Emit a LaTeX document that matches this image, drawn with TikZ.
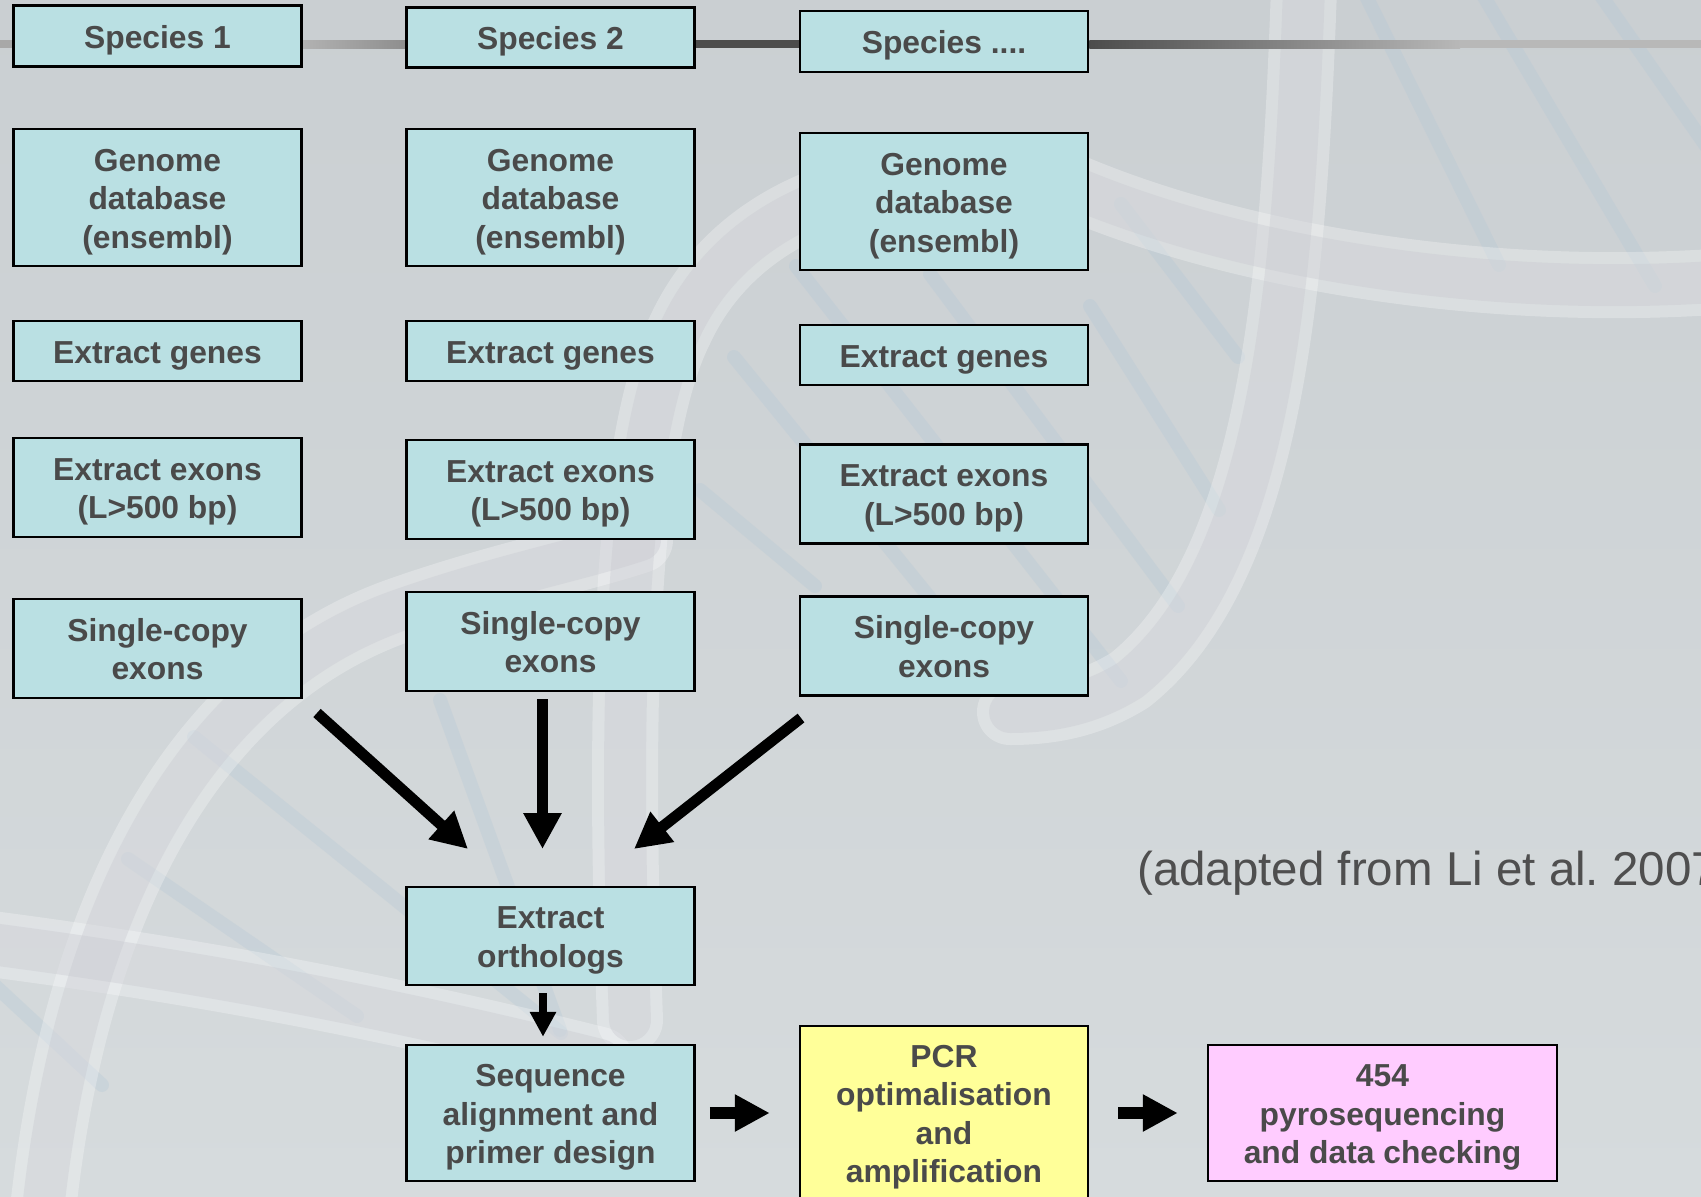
\documentclass[tikz,border=0pt]{standalone}
\usepackage{fontspec}
\setmainfont{Liberation Sans}
\usetikzlibrary{arrows.meta,backgrounds}
\definecolor{boxfill}{HTML}{BAE0E3}
\definecolor{boxtext}{HTML}{4A4A4A}
\definecolor{pcrfill}{HTML}{FFFF99}
\definecolor{pyrofill}{HTML}{FFCCFF}
\definecolor{bgtop}{HTML}{CACFD2}
\definecolor{bgbot}{HTML}{D6DBDD}
\definecolor{rungcol}{HTML}{B4C8D6}
\definecolor{strandmid}{HTML}{C6C7CE}
\definecolor{citecol}{HTML}{4F4F4F}
\definecolor{lineA}{HTML}{A8A8A8}
\definecolor{lineB}{HTML}{B2B2B2}
\definecolor{lineC}{HTML}{8E8E8E}
\definecolor{lineD}{HTML}{4C4C4C}
\definecolor{lineE}{HTML}{B8B8B8}
\begin{document}
\begin{tikzpicture}[x=1pt,y=-1pt,
  box/.style={draw=black, line width=2.5pt, fill=boxfill, text=boxtext,
    font=\fontsize{31.8}{38.5}\selectfont\bfseries, align=center,
    minimum width=288pt, inner sep=0pt, text height=31pt, text depth=7pt},
  two/.style={text height=69.5pt},
  three/.style={text height=108pt},
  four/.style={text height=146.5pt},
  strandout/.style={line width=66pt, white, opacity=0.28, line cap=round},
  strandin/.style={line width=42pt, strandmid, opacity=0.35, line cap=round},
  rung/.style={line width=14pt, rungcol, opacity=0.32, line cap=round},
  bigarrow/.style={line width=11pt, -{Triangle[length=36pt,width=36pt]}},
  smallarrow/.style={line width=8pt, -{Triangle[length=25pt,width=25pt]}},
  blockarrow/.style={line width=12pt, -{Triangle[length=35pt,width=35pt]}}]
\useasboundingbox (0,0) rectangle (1701,1197);
\clip (0,0) rectangle (1701,1197);

% --- boxes ---
\node[box, minimum height=61pt] (sp1) at (157.5,36) {Species 1};
\node[box, minimum height=60pt] (sp2) at (550.5,37.5) {Species 2};
\node[box, minimum height=61pt] (sp3) at (944,41.5) {Species ....};

\node[box, three, minimum height=137pt] (g1) at (157.5,197.5) {Genome\\database\\(ensembl)};
\node[box, three, minimum height=137pt] (g2) at (550.5,197.5) {Genome\\database\\(ensembl)};
\node[box, three, minimum height=137pt] (g3) at (944,201.5) {Genome\\database\\(ensembl)};

\node[box, minimum height=60pt] (eg1) at (157.5,351) {Extract genes};
\node[box, minimum height=60pt] (eg2) at (550.5,351) {Extract genes};
\node[box, minimum height=60pt] (eg3) at (944,355) {Extract genes};

\node[box, two, minimum height=99pt] (ex1) at (157.5,487.5) {Extract exons\\(L>500 bp)};
\node[box, two, minimum height=99pt] (ex2) at (550.5,489.5) {Extract exons\\(L>500 bp)};
\node[box, two, minimum height=99pt] (ex3) at (944,494) {Extract exons\\(L>500 bp)};

\node[box, two, minimum height=99pt] (sc1) at (157.5,648.5) {Single-copy\\exons};
\node[box, two, minimum height=99pt] (sc2) at (550.5,641.5) {Single-copy\\exons};
\node[box, two, minimum height=99pt] (sc3) at (944,646) {Single-copy\\exons};

\node[box, two, minimum height=98pt] (orth) at (550.5,936) {Extract\\orthologs};
\node[box, three, minimum height=136pt] (seq) at (550.5,1113) {Sequence\\alignment and\\primer design};
\node[box, four, fill=pcrfill, minimum height=174pt] (pcr) at (944,1113) {PCR\\optimalisation\\and\\amplification};
\node[box, three, fill=pyrofill, minimum width=349pt, minimum height=136pt] (pyro) at (1382.5,1113) {454\\pyrosequencing\\and data checking};

\node[anchor=base west, font=\fontsize{47.5}{52}\selectfont, text=citecol, inner sep=0pt] (cite) at (1137,885) {(adapted from Li et al.\ 2007)};

% --- arrows ---
\coordinate (a1s) at (317,713);
\coordinate (a1e) at (468,849);
\coordinate (a2s) at (542.5,699);
\coordinate (a2e) at (542.5,849);
\coordinate (a3s) at (801,718);
\coordinate (a3e) at (634,849);
\draw[bigarrow] (a1s) -- (a1e);
\draw[bigarrow] (a2s) -- (a2e);
\draw[bigarrow] (a3s) -- (a3e);
\draw[smallarrow] ([xshift=-7.5pt,yshift=-7pt]orth.south) -- ([xshift=-7.5pt,yshift=7pt]seq.north);
\draw[blockarrow, shorten <=14pt, shorten >=29pt] (seq.east) -- (pcr.west);
\draw[blockarrow, shorten <=29pt, shorten >=29pt] (pcr.east) -- (pyro.west);

% --- background ---
\begin{scope}[on background layer]
\shade[top color=bgtop, bottom color=bgbot] (0,0) rectangle (1701,1197);
\draw[rung] (796,266) -- (1121,681);
\draw[rung] (930,274) -- (1178,606);
\draw[rung] (734,357) -- (930,598);
\draw[rung] (700,490) -- (815,586);
\draw[rung] (1090,306) -- (1219,510);
\draw[rung] (1121,204) -- (1238,357);
\draw[rung] (1363,-10) -- (1499,265);
\draw[rung] (1480,-10) -- (1655,286);
\draw[rung] (1597,-10) -- (1711,153);
\draw[rung] (194,737) -- (561,1033);
\draw[rung] (128,859) -- (357,1016);
\draw[rung] (-10,981) -- (102,1085);
\draw[rung] (440,700) -- (560,1030);
\foreach \s in {strandout,strandin}{
  \draw[\s] (1305,-40) .. controls (1295,250) and (1280,560) .. (1130,680)
            .. controls (1090,705) and (1050,712) .. (1010,712);
  \draw[\s] (1740,280) .. controls (1500,300) and (1250,260) .. (1080,190)
            .. controls (900,150) and (740,200) .. (680,330)
            .. controls (620,450) and (620,750) .. (630,1020);
  \draw[\s] (40,1240) .. controls (70,900) and (200,680) .. (400,610)
            .. controls (500,575) and (580,560) .. (640,540);
  \draw[\s] (-40,940) .. controls (200,970) and (400,1010) .. (600,1060);
}
% top line through the species boxes
\coordinate (tl) at (0,44);
\coordinate (tr) at (1701,44);
\fill[lineA] (0,40) rectangle (sp1.west |- 0,48);
\shade[left color=lineB, right color=lineC] (sp1.east |- 0,40) rectangle (sp2.west |- 0,48);
\fill[lineD] (sp2.east |- 0,40) rectangle (sp3.west |- 0,48);
\shade[left color=lineD, right color=lineE] (sp3.east |- 0,40) rectangle (1460,48);
\fill[lineE] (1460,40) rectangle (tr |- 0,48);
\end{scope}
\end{tikzpicture}
\end{document}
